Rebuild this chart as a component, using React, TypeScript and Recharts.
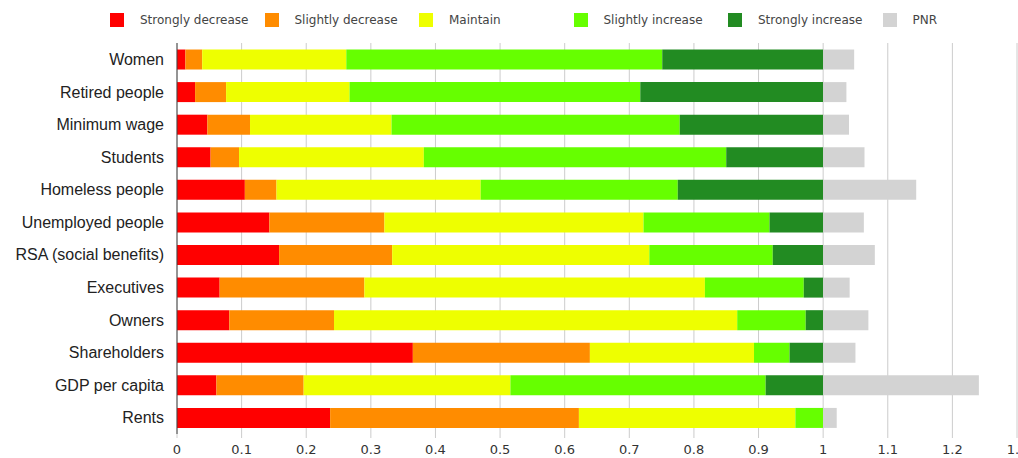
import { Bar, BarChart, CartesianGrid, Legend, XAxis, YAxis } from "recharts";

const categories = [
  "Women",
  "Retired people",
  "Minimum wage",
  "Students",
  "Homeless people",
  "Unemployed people",
  "RSA (social benefits)",
  "Executives",
  "Owners",
  "Shareholders",
  "GDP per capita",
  "Rents",
];

const stronglyDecrease = [0.013, 0.028, 0.047, 0.052, 0.105, 0.143, 0.158, 0.066, 0.081, 0.365, 0.061, 0.237];
const slightlyDecrease = [0.026, 0.048, 0.066, 0.044, 0.049, 0.178, 0.175, 0.224, 0.162, 0.274, 0.135, 0.385];
const maintain = [0.223, 0.191, 0.219, 0.286, 0.316, 0.401, 0.398, 0.527, 0.624, 0.254, 0.32, 0.335];
const slightlyIncrease = [0.489, 0.45, 0.446, 0.468, 0.305, 0.195, 0.191, 0.153, 0.106, 0.055, 0.395, 0.043];
const stronglyIncrease = [0.249, 0.283, 0.222, 0.15, 0.225, 0.083, 0.078, 0.03, 0.027, 0.052, 0.089, 0];
const pnr = [0.048, 0.036, 0.04, 0.064, 0.144, 0.063, 0.08, 0.041, 0.07, 0.05, 0.241, 0.021];

const xTicks = [0, 0.1, 0.2, 0.3, 0.4, 0.5, 0.6, 0.7, 0.8, 0.9, 1, 1.1, 1.2, 1.3];

const series = [
  { key: "sd", name: "Strongly decrease", color: "#ff0000" },
  { key: "sld", name: "Slightly decrease", color: "#ff8c00" },
  { key: "m", name: "Maintain", color: "#eeff00" },
  { key: "sli", name: "Slightly increase", color: "#66ff00" },
  { key: "si", name: "Strongly increase", color: "#228b22" },
  { key: "pnr", name: "PNR", color: "#d3d3d3" },
];

const data = categories.map((name, i) => ({
  name,
  sd: stronglyDecrease[i],
  sld: slightlyDecrease[i],
  m: maintain[i],
  sli: slightlyIncrease[i],
  si: stronglyIncrease[i],
  pnr: pnr[i],
}));

const seriesOrder = series.map((s) => s.name);

function TopLegend({ payload }: { payload?: any[] }) {
  // recharts sorts the payload by name, put it back in series order
  const items = [...(payload || [])].sort(
    (a, b) => seriesOrder.indexOf(a.value) - seriesOrder.indexOf(b.value)
  );
  return (
    <div style={{ position: "relative", height: 40, width: 1018 }}>
      {items.map((p, i) => (
        <div
          key={p.value}
          style={{
            position: "absolute",
            left: 110 + i * 154.5,
            top: 13,
            display: "flex",
            alignItems: "center",
            whiteSpace: "nowrap",
          }}
        >
          <span
            style={{
              display: "inline-block",
              width: 14,
              height: 14,
              background: p.color,
              marginRight: 16,
            }}
          />
          <span
            style={{
              fontFamily: "DejaVu Sans, Verdana, sans-serif",
              fontSize: 12,
              color: "#444",
            }}
          >
            {p.value}
          </span>
        </div>
      ))}
    </div>
  );
}

export default function App() {
  return (
    <div
      style={{
        position: "absolute",
        left: 0,
        top: 0,
        width: 1018,
        height: 458,
        background: "#fff",
        overflow: "hidden",
      }}
    >
      <BarChart
        width={1018}
        height={458}
        data={data}
        layout="vertical"
        barCategoryGap="20%"
        margin={{ top: 43, right: 1, bottom: 0, left: 0 }}
      >
        <CartesianGrid stroke="#cccccc" horizontal={false} />
        <XAxis
          type="number"
          domain={[0, 1.3]}
          ticks={xTicks}
          interval={0}
          height={24}
          axisLine={false}
          tickLine={{ stroke: "#cccccc" }}
          tickSize={4}
          tickMargin={7}
          tick={{ fill: "#333", fontSize: 13, fontFamily: "DejaVu Sans, Verdana, sans-serif" }}
        />
        <YAxis
          type="category"
          dataKey="name"
          width={177}
          axisLine={{ stroke: "#444" }}
          tickLine={false}
          tickMargin={7}
          tick={{ fill: "#222", fontSize: 16, fontFamily: "Liberation Sans, Arial, sans-serif" }}
        />
        <Legend
          verticalAlign="middle"
          layout="horizontal"
          wrapperStyle={{ top: 0, left: 0, width: 1018 }}
          content={(props: any) => <TopLegend payload={props.payload} />}
        />
        {series.map((s) => (
          <Bar
            key={s.key}
            dataKey={s.key}
            name={s.name}
            stackId="a"
            fill={s.color}
            isAnimationActive={false}
          />
        ))}
      </BarChart>
    </div>
  );
}
